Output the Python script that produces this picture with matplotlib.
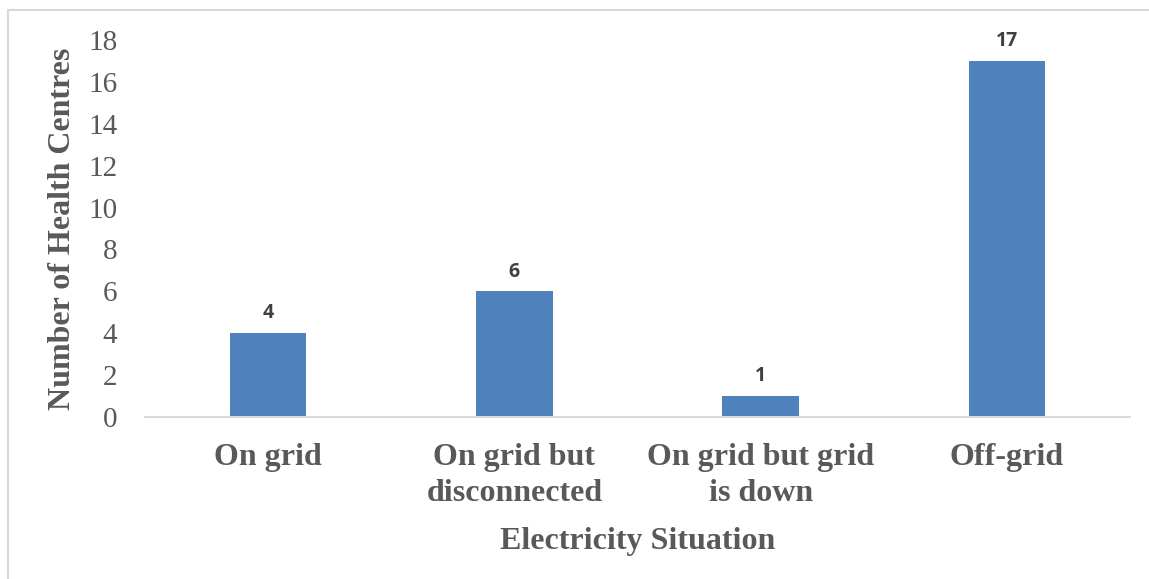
import matplotlib
matplotlib.use("Agg")
import matplotlib.pyplot as plt
from matplotlib.patches import Rectangle

categories = ["On grid", "On grid but\ndisconnected", "On grid but grid\nis down", "Off-grid"]
counts = [4, 6, 1, 17]
y_ticks = [0, 2, 4, 6, 8, 10, 12, 14, 16, 18]

bar_color = "#4F81BD"
text_gray = "#595959"
label_gray = "#404040"
serif = ["Liberation Serif", "DejaVu Serif"]

fig = plt.figure(figsize=(11.49, 5.79), dpi=100)
fig.patch.set_facecolor("white")

# Outer chart-area frame (only top and left edges fall inside the image)
fig.add_artist(Rectangle((8 / 1149, -0.05), 1.2, 1 - 10 / 579 + 0.05,
                         transform=fig.transFigure, fill=False,
                         edgecolor="#D9D9D9", linewidth=1.5))

ax = fig.add_axes([145 / 1149, 1 - 417 / 579, (1130 - 145) / 1149, (417 - 40) / 579])
x = list(range(len(categories)))
bars = ax.bar(x, counts, width=0.31, color=bar_color, zorder=2)

ax.set_xlim(-0.5, len(categories) - 0.5)
ax.set_ylim(0, 18)
ax.set_yticks(y_ticks)
ax.set_yticklabels([str(v) for v in y_ticks], fontfamily=serif, fontsize=21, color=text_gray)
ax.set_xticks(x)
ax.set_xticklabels(categories, fontfamily=serif, fontsize=23, fontweight="bold",
                   color=text_gray, linespacing=1.3)
ax.tick_params(axis="y", length=0, pad=20)
ax.tick_params(axis="x", length=0, pad=19)

for side in ("top", "right", "left"):
    ax.spines[side].set_visible(False)
ax.spines["bottom"].set_color("#D9D9D9")
ax.spines["bottom"].set_linewidth(1.5)

for rect, v in zip(bars, counts):
    ax.annotate(str(v), (rect.get_x() + rect.get_width() / 2, v),
                xytext=(0, 7), textcoords="offset points",
                ha="center", va="bottom", fontsize=14, fontweight="bold",
                fontfamily=["Open Sans", "DejaVu Sans"], color=label_gray)

ax.set_ylabel("Number of Health Centres", fontfamily=serif, fontsize=23,
              fontweight="bold", color=text_gray, labelpad=8)
ax.set_xlabel("Electricity Situation", fontfamily=serif, fontsize=23,
              fontweight="bold", color=text_gray, labelpad=14)

fig.savefig("out.png", dpi=100)
